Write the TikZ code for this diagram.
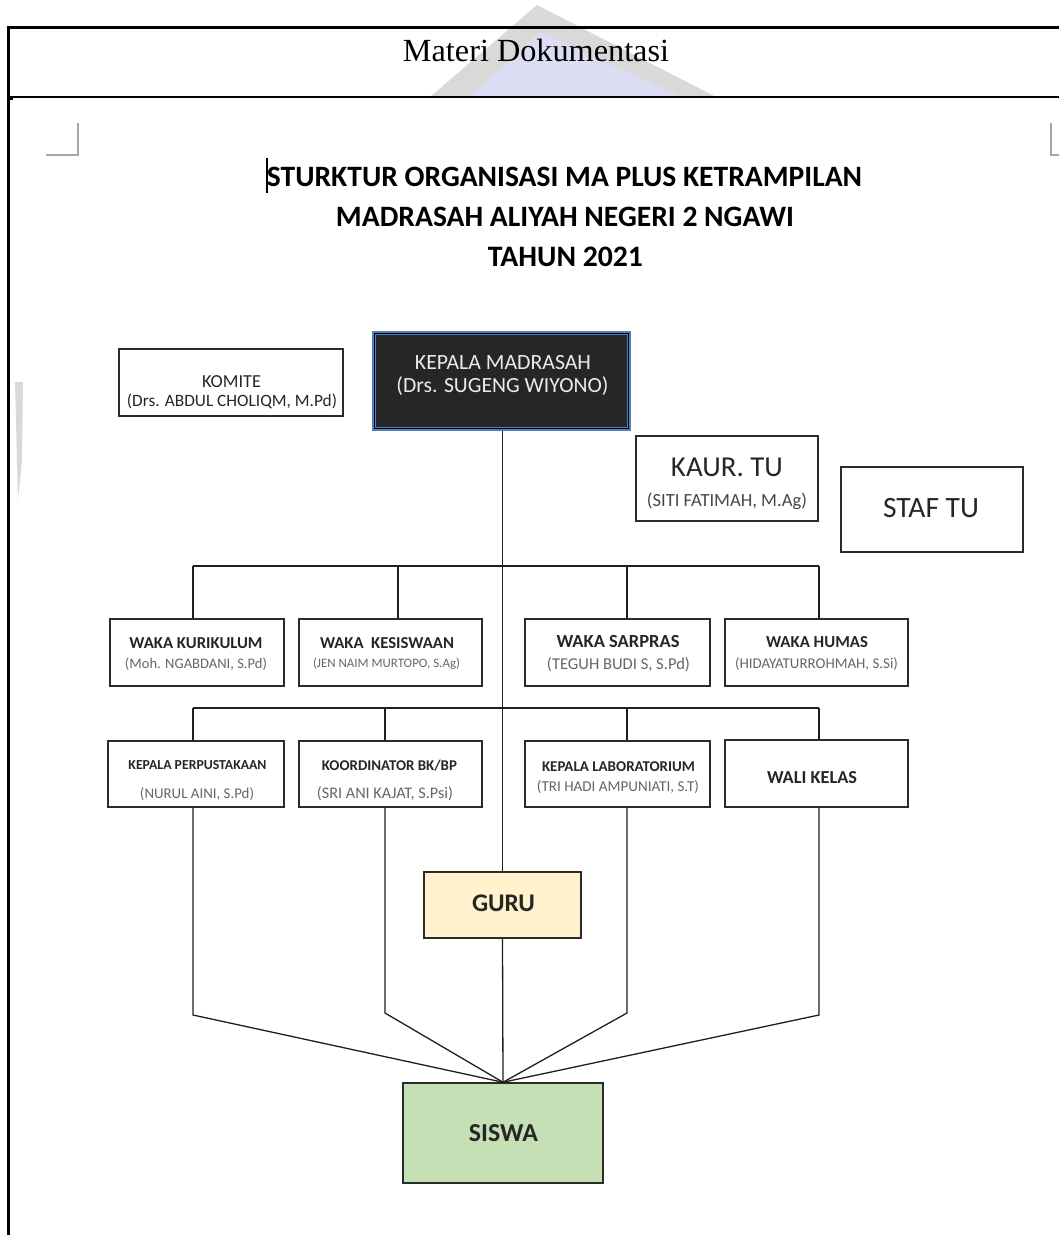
\documentclass[tikz,border=0pt]{standalone}
\usepackage{fontspec}
\setmainfont{Carlito}
\newfontfamily\tnr{Liberation Serif}
\usepackage{graphicx}
\usetikzlibrary{fit}
\newcommand\fitw[2]{\resizebox{#1pt}{!}{#2}}
\definecolor{boxc}{HTML}{2B2B2B}
\definecolor{linec}{HTML}{1F1F1F}
\definecolor{kblue}{HTML}{4F81BD}
\definecolor{kfill}{HTML}{262626}
\definecolor{guruf}{HTML}{FFF2CC}
\definecolor{siswaf}{HTML}{C5E0B4}
\definecolor{subc}{HTML}{666666}
\definecolor{titc}{HTML}{262626}
\definecolor{wmgrey}{HTML}{D9D9D9}
\definecolor{wmlav}{HTML}{DCDCF2}
\definecolor{markc}{HTML}{A6A6A6}
\tikzset{
  box/.style={draw=boxc, line width=1.5pt, inner sep=0pt, fill=white},
  lbl/.style={inner sep=0pt, text depth=0pt, anchor=center},
  sub/.style={lbl, text=subc},
  ttl/.style={lbl, text=titc},
  conn/.style={draw=linec, line width=1.3pt},
}
\begin{document}
\begin{tikzpicture}[x=1pt,y=-1pt]
\useasboundingbox (0,0) rectangle (1059,1235);
\fill[white] (0,0) rectangle (1059,1235);
% watermark
\fill[wmgrey] (537,5) -- (430,97) -- (716,97) -- cycle;
\fill[wmlav] (540,32) -- (470,97) -- (682,97) -- cycle;
\fill[wmgrey] (15,382) -- (23,382) -- (22,460) -- (18,500) -- cycle;
% page frame
\draw[line width=3pt] (6.5,27) -- (1059,27);
\draw[line width=3pt] (8,25.5) -- (8,1235);
\draw[line width=2pt] (8,97) -- (1059,97);
\fill (8,96) rectangle (13,100);
\node[lbl] (hdr) at (536,50) {\fitw{266}{\tnr Materi Dokumentasi}};
% corner marks
\draw[markc, line width=1.5pt] (78,123) -- (78,155) -- (46,155);
\draw[markc, line width=1.5pt] (1051,123) -- (1051,155) -- (1059,155);
% cursor
\draw[line width=1.2pt] (267,158) -- (267,193);
% titles
\node[lbl] (t1) at (564.5,177) {\fitw{595}{\bfseries STURKTUR ORGANISASI MA PLUS KETRAMPILAN}};
\node[lbl] (t2) at (565,217) {\fitw{458}{\bfseries MADRASAH ALIYAH NEGERI 2 NGAWI}};
\node[lbl] (t3) at (565.5,257) {\fitw{155}{\bfseries TAHUN 2021}};
% boxes
\node[box, fit={(119,349) (343,416)}] (komite) {};
\node[box, draw=kblue, line width=4pt, fill=kfill, fit={(374,333) (629,429)}] (kepala) {};
\draw[black, line width=1.3pt] ([xshift=2.8pt,yshift=-2.8pt]kepala.north west) rectangle ([xshift=-2.8pt,yshift=2.8pt]kepala.south east);
\node[box, fit={(636,436) (818,521)}] (kaur) {};
\node[box, fit={(841,467) (1023,552)}] (staf) {};
\node[box, fit={(110,619) (284,686)}] (wk) {};
\node[box, fit={(299,619) (482,686)}] (wks) {};
\node[box, fit={(525,619) (710,686)}] (wsp) {};
\node[box, fit={(725,619) (908,686)}] (wh) {};
\node[box, fit={(108,741) (284,807)}] (pp) {};
\node[box, fit={(299,741) (482,807)}] (kd) {};
\node[box, fit={(525,741) (710,807)}] (lab) {};
\node[box, fit={(725,740) (908,807)}] (wali) {};
\node[box, fill=guruf, fit={(424,872) (581,938)}] (guru) {};
\node[box, fill=siswaf, fit={(403,1083) (603,1183)}] (siswa) {};
% box texts
\node[ttl] (komite-t) at (231.5,382) {\fitw{59}{KOMITE}};
\node[ttl] (komite-s) at (232,400) {\fitw{210}{(Drs. ABDUL CHOLIQM, M.Pd)}};
\node[lbl, text=white!92!black] (kepala-t) at (503,362) {\fitw{176}{KEPALA MADRASAH}};
\node[lbl, text=white!92!black] (kepala-s) at (502.5,385) {\fitw{212}{(Drs. SUGENG WIYONO)}};
\node[ttl] (kaur-t) at (727,467) {\fitw{112}{KAUR. TU}};
\node[ttl, text=titc!85!white] (kaur-s) at (727,500) {\fitw{160}{(SITI FATIMAH, M.Ag)}};
\node[ttl] (staf-t) at (931,508) {\fitw{96}{STAF TU}};
\node[ttl] (wk-t) at (196,643) {\fitw{133}{\bfseries WAKA KURIKULUM}};
\node[sub] (wk-s) at (196,663) {\fitw{142}{(Moh. NGABDANI, S.Pd)}};
\node[ttl] (wks-t) at (387,643) {\fitw{134}{\bfseries WAKA\ \ KESISWAAN}};
\node[sub] (wks-s) at (386.5,663) {\fitw{147}{(JEN NAIM MURTOPO, S.Ag)}};
\node[ttl] (wsp-t) at (618,641) {\fitw{123}{\bfseries WAKA SARPRAS}};
\node[sub] (wsp-s) at (618.5,663) {\fitw{143}{(TEGUH BUDI S, S.Pd)}};
\node[ttl] (wh-t) at (817,642) {\fitw{102}{\bfseries WAKA HUMAS}};
\node[sub] (wh-s) at (816.5,663) {\fitw{163}{(HIDAYATURROHMAH, S.Si)}};
\node[ttl] (pp-t) at (197.5,765) {\fitw{138}{\bfseries KEPALA PERPUSTAKAAN}};
\node[sub] (pp-s) at (197,793) {\fitw{114}{(NURUL AINI, S.Pd)}};
\node[ttl] (kd-t) at (389.5,765) {\fitw{135}{\bfseries KOORDINATOR BK/BP}};
\node[sub] (kd-s) at (385,793) {\fitw{136}{(SRI ANI KAJAT, S.Psi)}};
\node[ttl] (lab-t) at (618.5,767) {\fitw{153}{\bfseries KEPALA LABORATORIUM}};
\node[sub] (lab-s) at (618,786) {\fitw{162}{(TRI HADI AMPUNIATI, S.T)}};
\node[ttl] (wali-t) at (812,777) {\fitw{90}{\bfseries WALI KELAS}};
\node[ttl] (guru-t) at (503.5,903) {\fitw{63}{\bfseries GURU}};
\node[ttl] (siswa-t) at (503.5,1133) {\fitw{69}{\bfseries SISWA}};
% junction coordinates
\coordinate (b1a) at (193,566);
\coordinate (b1c) at (398,566);
\coordinate (b1d) at (627,566);
\coordinate (b1b) at (819,566);
\coordinate (b2a) at (193,708);
\coordinate (b2c) at (385,708);
\coordinate (b2d) at (627,708);
\coordinate (b2b) at (819,708);
\coordinate (k1) at (193,1015);
\coordinate (k2) at (385,1013);
\coordinate (k3) at (627,1013);
\coordinate (k4) at (819,1015);
% connectors
\draw[conn] (kepala.south -| guru.north) -- (guru.north);
\draw[conn] (guru.south) -- (siswa.north);
\draw[conn] (b1a) -- (b1b);
\draw[conn] (b1a) -- (b1a |- wk.north);
\draw[conn] (b1c) -- (b1c |- wks.north);
\draw[conn] (b1d) -- (b1d |- wsp.north);
\draw[conn] (b1b) -- (b1b |- wh.north);
\draw[conn] (b2a) -- (b2b);
\draw[conn] (b2a) -- (b2a |- pp.north);
\draw[conn] (b2c) -- (b2c |- kd.north);
\draw[conn] (b2d) -- (b2d |- lab.north);
\draw[conn] (b2b) -- (b2b |- wali.north);
\draw[conn] (k1 |- pp.south) -- (k1) -- (siswa.north);
\draw[conn] (k2 |- kd.south) -- (k2) -- (siswa.north);
\draw[conn] (k3 |- lab.south) -- (k3) -- (siswa.north);
\draw[conn] (k4 |- wali.south) -- (k4) -- (siswa.north);
\end{tikzpicture}
\end{document}
